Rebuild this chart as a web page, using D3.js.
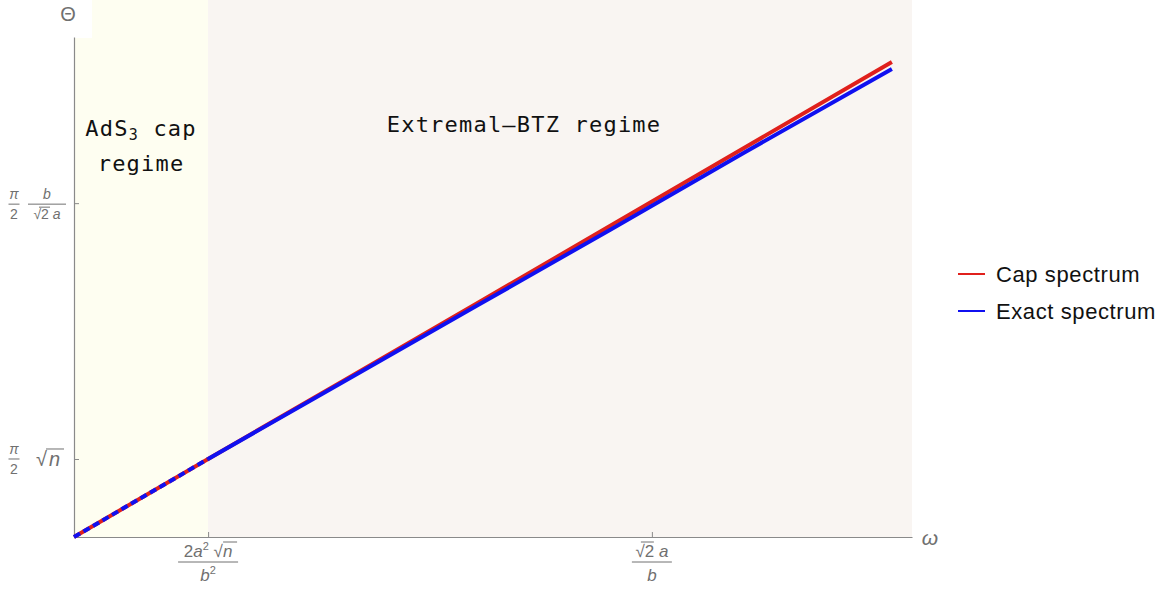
<!DOCTYPE html>
<html><head><meta charset="utf-8">
<script src="https://cdn.jsdelivr.net/npm/d3@7"></script>
<style>body{margin:0;background:#fff}svg{display:block}</style>
</head><body><svg id="c" width="1175" height="590"></svg>
<script>
// ---- data ----
const omega      = [0, 0.5, 1, 2, 3, 4, 5, 6.1];
const capTheta   = [0, 0.5, 1.0, 1.995, 2.99, 3.99, 4.99, 6.09];
const exactTheta = [0, 0.5, 1.0, 1.98, 2.96, 3.94, 4.93, 6.0];
const xTicks = [1, 4.31];   // 2a²√n/b², √2 a/b
const yTicks = [1, 4.28];   // π/2 √n, π/2 b/(√2 a)
const regimes = [
  {name: "AdS3 cap regime", from: 0, to: 1},
  {name: "Extremal–BTZ regime", from: 1, to: 6.25}
];
const seriesNames = ["Cap spectrum", "Exact spectrum"];
const seriesColors = ["#e0201c", "#1010f0"];

const svg = d3.select("#c");
const x = d3.scaleLinear().domain([0, 6.25]).range([74, 912]);
const y = d3.scaleLinear().domain([0, 6.41]).range([537, 37]);
const gray = "#707070";

// regime shading
const shade = ["#fefef1", "#f9f5f2"];
regimes.forEach((r, i) => {
  svg.append("rect").attr("x", x(r.from)).attr("y", 0)
    .attr("width", x(r.to) - x(r.from)).attr("height", y(0))
    .attr("fill", shade[i]);
});
// white box behind the Θ label
svg.append("rect").attr("x", 40).attr("y", 0).attr("width", 52).attr("height", 38).attr("fill", "#fff");

// axes
const xAxis = d3.axisBottom(x).tickValues(xTicks).tickSizeInner(-5).tickSizeOuter(0).tickFormat("");
const yAxis = d3.axisLeft(y).tickValues(yTicks).tickSizeInner(-5).tickSizeOuter(0).tickFormat("");
const gx = svg.append("g").attr("transform", `translate(0,${y(0)})`).call(xAxis);
const gy = svg.append("g").attr("transform", `translate(${x(0)},0)`).call(yAxis);
[gx, gy].forEach(g => {
  g.select(".domain").attr("stroke", "#8a8a8a").attr("stroke-width", 1.2);
  g.selectAll(".tick line").attr("stroke", "#8a8a8a");
});

// lines
const pts = vals => omega.map((w, i) => [w, vals[i]]);
const line = d3.line().x(d => x(d[0])).y(d => y(d[1]));
const capPts = pts(capTheta), exPts = pts(exactTheta);
svg.append("path").attr("d", line(capPts)).attr("fill", "none")
  .attr("stroke", seriesColors[0]).attr("stroke-width", 4);
svg.append("path").attr("d", line(exPts.filter(d => d[0] >= 1))).attr("fill", "none")
  .attr("stroke", seriesColors[1]).attr("stroke-width", 4);
svg.append("path").attr("d", line(exPts.filter(d => d[0] <= 1))).attr("fill", "none")
  .attr("stroke", seriesColors[1]).attr("stroke-width", 4).attr("stroke-dasharray", "7,4");

// regime labels
const mono = "'DejaVu Sans Mono', monospace";
const t1 = svg.append("text").attr("x", x(0.5)).attr("y", 136).attr("text-anchor", "middle")
  .attr("font-family", mono).attr("font-size", 22).attr("letter-spacing", 1.2).attr("fill", "#111");
t1.append("tspan").text("AdS");
t1.append("tspan").text("3").attr("font-size", 15).attr("dy", 4);
t1.append("tspan").text(" cap").attr("dy", -4);
svg.append("text").attr("x", x(0.5)).attr("y", 171).attr("text-anchor", "middle")
  .attr("font-family", mono).attr("font-size", 22).attr("letter-spacing", 1.2).attr("fill", "#111").text("regime");
svg.append("text").attr("x", 524).attr("y", 132).attr("text-anchor", "middle")
  .attr("font-family", mono).attr("font-size", 22).attr("letter-spacing", 1.2).attr("fill", "#111").text("Extremal–BTZ regime");

// axis titles
const sans = "'Liberation Sans', Arial, sans-serif";
svg.append("text").attr("x", 68).attr("y", 21).attr("text-anchor", "middle")
  .attr("font-family", sans).attr("font-size", 20).attr("fill", gray).text("Θ");
svg.append("text").attr("x", 930).attr("y", 545).attr("text-anchor", "middle")
  .attr("font-family", sans).attr("font-style", "italic").attr("font-size", 21).attr("fill", gray).text("ω");

// fraction helper
function frac(cx, cy, num, den, w, fs, opt = {}) {
  const g = svg.append("g").attr("font-family", sans).attr("fill", gray).attr("font-size", fs);
  const n = g.append("text").attr("x", cx).attr("y", cy - (opt.up || 4)).attr("text-anchor", "middle");
  num(n);
  svg.append("line").attr("x1", cx - w / 2).attr("x2", cx + w / 2).attr("y1", cy).attr("y2", cy)
    .attr("stroke", gray).attr("stroke-width", 1);
  const d = g.append("text").attr("x", cx).attr("y", cy + (opt.down || fs + 1)).attr("text-anchor", "middle");
  den(d);
}
// y tick labels
const yt1 = y(yTicks[1]);
frac(14, yt1 + 1, t => t.text("π").attr("font-style", "italic"), t => t.text("2"), 11, 14, {up: 5, down: 15});
frac(47, yt1 + 1, t => t.text("b").attr("font-style", "italic"),
  t => { t.append("tspan").text("√2 "); t.append("tspan").text("a").attr("font-style", "italic"); }, 38, 14, {up: 5, down: 15});
svg.append("line").attr("x1", 39).attr("x2", 50).attr("y1", yt1 + 4).attr("y2", yt1 + 4).attr("stroke", gray);

const yt0 = y(yTicks[0]);
frac(14, yt0, t => t.text("π").attr("font-style", "italic"), t => t.text("2"), 11, 14, {up: 5, down: 15});
svg.append("text").attr("x", 36).attr("y", yt0 + 7).attr("font-family", sans).attr("font-size", 20)
  .attr("fill", gray).text("√");
svg.append("text").attr("x", 49).attr("y", yt0 + 7).attr("font-family", sans).attr("font-size", 20)
  .attr("font-style", "italic").attr("fill", gray).text("n");
svg.append("line").attr("x1", 46).attr("x2", 64).attr("y1", yt0 - 10).attr("y2", yt0 - 10).attr("stroke", gray);

// x tick labels
const xt0 = x(xTicks[0]);
frac(xt0, 562, t => {
  t.append("tspan").text("2");
  t.append("tspan").text("a").attr("font-style", "italic");
  t.append("tspan").text("2").attr("font-size", 11).attr("dy", -7);
  t.append("tspan").text(" √").attr("dy", 7);
  t.append("tspan").text("n").attr("font-style", "italic");
}, t => {
  t.append("tspan").text("b").attr("font-style", "italic");
  t.append("tspan").text("2").attr("font-size", 11).attr("dy", -7);
}, 60, 17, {up: 5, down: 19});
svg.append("line").attr("x1", xt0 + 15).attr("x2", xt0 + 29).attr("y1", 542).attr("y2", 542).attr("stroke", gray);

const xt1 = x(xTicks[1]);
frac(xt1, 562, t => {
  t.append("tspan").text("√2 ");
  t.append("tspan").text("a").attr("font-style", "italic");
}, t => t.append("tspan").text("b").attr("font-style", "italic"), 40, 17, {up: 5, down: 19});
svg.append("line").attr("x1", xt1 - 11).attr("x2", xt1 + 2).attr("y1", 542).attr("y2", 542).attr("stroke", gray);

// legend
seriesNames.forEach((s, i) => {
  const ly = 274 + i * 37;
  svg.append("line").attr("x1", 958).attr("x2", 985).attr("y1", ly).attr("y2", ly)
    .attr("stroke", seriesColors[i]).attr("stroke-width", 2);
  svg.append("text").attr("x", 996).attr("y", ly + 8).attr("font-family", sans).attr("font-size", 22)
    .attr("letter-spacing", 0.6).attr("fill", "#111").text(s);
});
</script></body></html>
